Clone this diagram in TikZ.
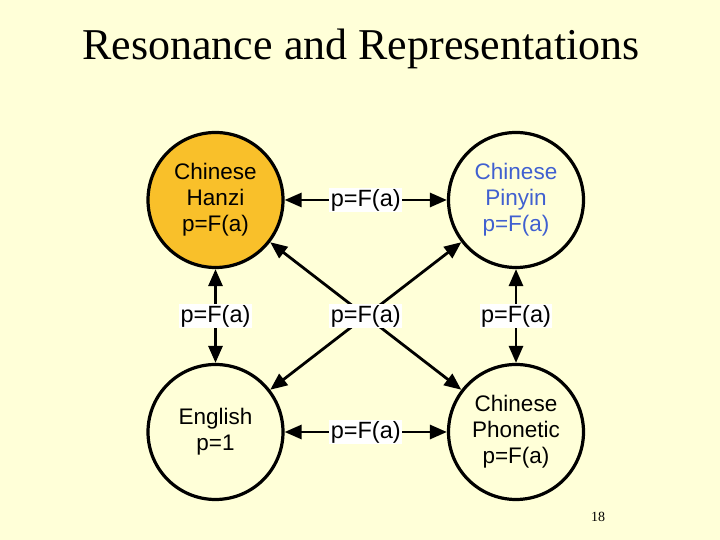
\documentclass[tikz,border=0pt]{standalone}
\usepackage{fontspec}
\setmainfont{Liberation Serif}
\newfontfamily\arialf{Liberation Sans}
\usetikzlibrary{arrows.meta}
\definecolor{bgyellow}{HTML}{FFFFD8}
\definecolor{hanzi}{HTML}{F9C02A}
\definecolor{pinyinblue}{HTML}{4060D0}
\tikzset{
  state/.style={circle, draw=black, line width=3.2pt, minimum size=135pt, inner sep=0pt,
    align=center, font=\arialf\fontsize{22.5}{26}\selectfont},
  lab/.style={fill=white, inner sep=1.5pt, font=\arialf\fontsize{23.5}{26}\selectfont},
  link/.style={line width=2.8pt, {Triangle[length=17pt,width=14pt]}-{Triangle[length=17pt,width=14pt]}}
}
\begin{document}
\begin{tikzpicture}[x=1pt,y=1pt]
\fill[bgyellow] (0,0) rectangle (720,540);
\useasboundingbox (0,0) rectangle (720,540);
\node (title) at (361,491) {\fontsize{44}{50}\selectfont Resonance and Representations};
\node[state, fill=hanzi] (tl) at (215.5,340) {Chinese\\Hanzi\\p=F(a)};
\node[state, text=pinyinblue] (tr) at (516,340) {Chinese\\Pinyin\\p=F(a)};
\node[state] (bl) at (215.5,108) {English\\p=1};
\node[state] (br) at (516,108) {Chinese\\Phonetic\\p=F(a)};
\draw[link] (tl) -- (tr) node[midway, lab] (l1) {p=F(a)};
\draw[link] (bl) -- (br) node[midway, lab] (l2) {p=F(a)};
\draw[link] (tl) -- (bl) node[midway, lab] (l3) {p=F(a)};
\draw[link] (tr) -- (br) node[midway, lab] (l4) {p=F(a)};
\draw[link] (tl) -- (br);
\draw[link] (tr) -- (bl) node[midway, lab] (l5) {p=F(a)};
\node (pg) at (598,23) {\fontsize{14}{16}\selectfont 18};
\end{tikzpicture}
\end{document}
